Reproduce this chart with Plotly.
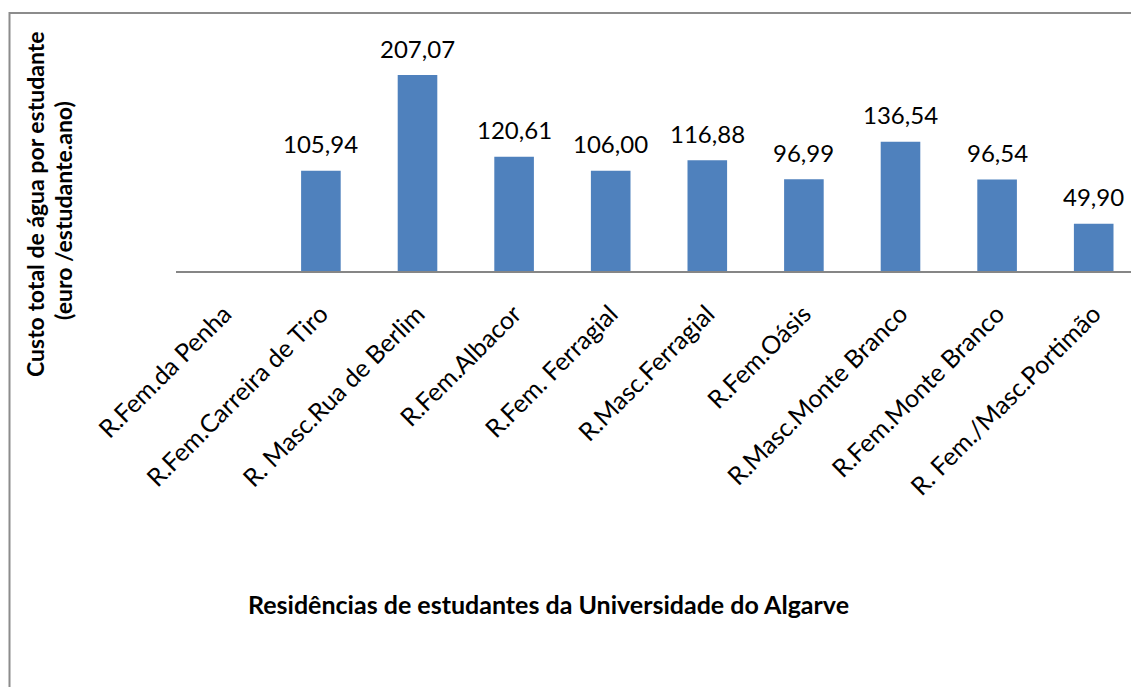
import plotly.graph_objects as go

categories = [
    "R.Fem.da Penha",
    "R.Fem.Carreira de Tiro",
    "R. Masc.Rua de Berlim",
    "R.Fem.Albacor",
    "R.Fem. Ferragial",
    "R.Masc.Ferragial",
    "R.Fem.Oásis",
    "R.Masc.Monte Branco",
    "R.Fem.Monte Branco",
    "R. Fem./Masc.Portimão",
]
values = [None, 105.94, 207.07, 120.61, 106.00, 116.88, 96.99, 136.54, 96.54, 49.90]
value_labels = ["", "105,94", "207,07", "120,61", "106,00", "116,88", "96,99", "136,54", "96,54", "49,90"]

W, H = 1131, 687
L, R, T, B = 176, 0, 13, 416
pw = W - L - R
ph = H - T - B

FONT = "Lato"

fig = go.Figure()
fig.add_trace(go.Bar(
    x=list(range(len(categories))),
    y=values,
    marker=dict(color="#4F81BD", line=dict(width=0)),
    width=0.41,
    hoverinfo="skip",
))

for i, (v, lab) in enumerate(zip(values, value_labels)):
    if v is None:
        continue
    fig.add_annotation(
        x=i, y=v, text=lab, showarrow=False,
        xanchor="center", yanchor="middle", yshift=27,
        font=dict(family=FONT, size=24, color="#000000"),
    )

# axis titles
fig.add_annotation(
    xref="paper", yref="paper",
    x=(35 - L) / pw, y=(271 - 204) / ph,
    text="<b>Custo total de água por estudante</b>",
    textangle=-90, showarrow=False, xanchor="center", yanchor="middle",
    font=dict(family=FONT, size=23, color="#000000"),
)
fig.add_annotation(
    xref="paper", yref="paper",
    x=(63 - L) / pw, y=(271 - 211) / ph,
    text="<b>(euro /estudante.ano)</b>",
    textangle=-90, showarrow=False, xanchor="center", yanchor="middle",
    font=dict(family=FONT, size=23, color="#000000"),
)
fig.add_annotation(
    xref="paper", yref="paper",
    x=(548 - L) / pw, y=(271 - 604) / ph,
    text="<b>Residências de estudantes da Universidade do Algarve</b>",
    showarrow=False, xanchor="center", yanchor="middle",
    font=dict(family=FONT, size=25, color="#000000"),
)

# outer chart border (top & left visible)
fig.add_shape(
    type="rect", xref="paper", yref="paper",
    x0=(9.5 - L) / pw, x1=(W + 20 - L) / pw,
    y0=(271 - (H + 20)) / ph, y1=(271 - 13) / ph,
    line=dict(color="#8C8C8C", width=2), fillcolor="rgba(0,0,0,0)",
    layer="below",
)

ymax = ph / (196 / 207.07)
fig.update_layout(
    width=W, height=H,
    margin=dict(l=L, r=R, t=T, b=B, pad=0),
    paper_bgcolor="white", plot_bgcolor="white",
    showlegend=False,
    xaxis=dict(
        tickmode="array",
        tickvals=list(range(len(categories))),
        ticktext=categories,
        tickangle=-45,
        range=[-0.5, -0.5 + pw / 96.6],
        showline=True, linecolor="#868686", linewidth=1.5,
        ticks="outside", ticklen=17, tickcolor="rgba(0,0,0,0)",
        showgrid=False, zeroline=False,
        tickfont=dict(family=FONT, size=25, color="#000000"),
    ),
    yaxis=dict(
        range=[0, ymax],
        visible=False,
        showgrid=False, zeroline=False,
    ),
)

fig.write_html(
    "out.html",
    config={"displayModeBar": False, "staticPlot": True},
    post_script="document.body.style.margin='0';document.body.style.overflow='hidden';",
)
